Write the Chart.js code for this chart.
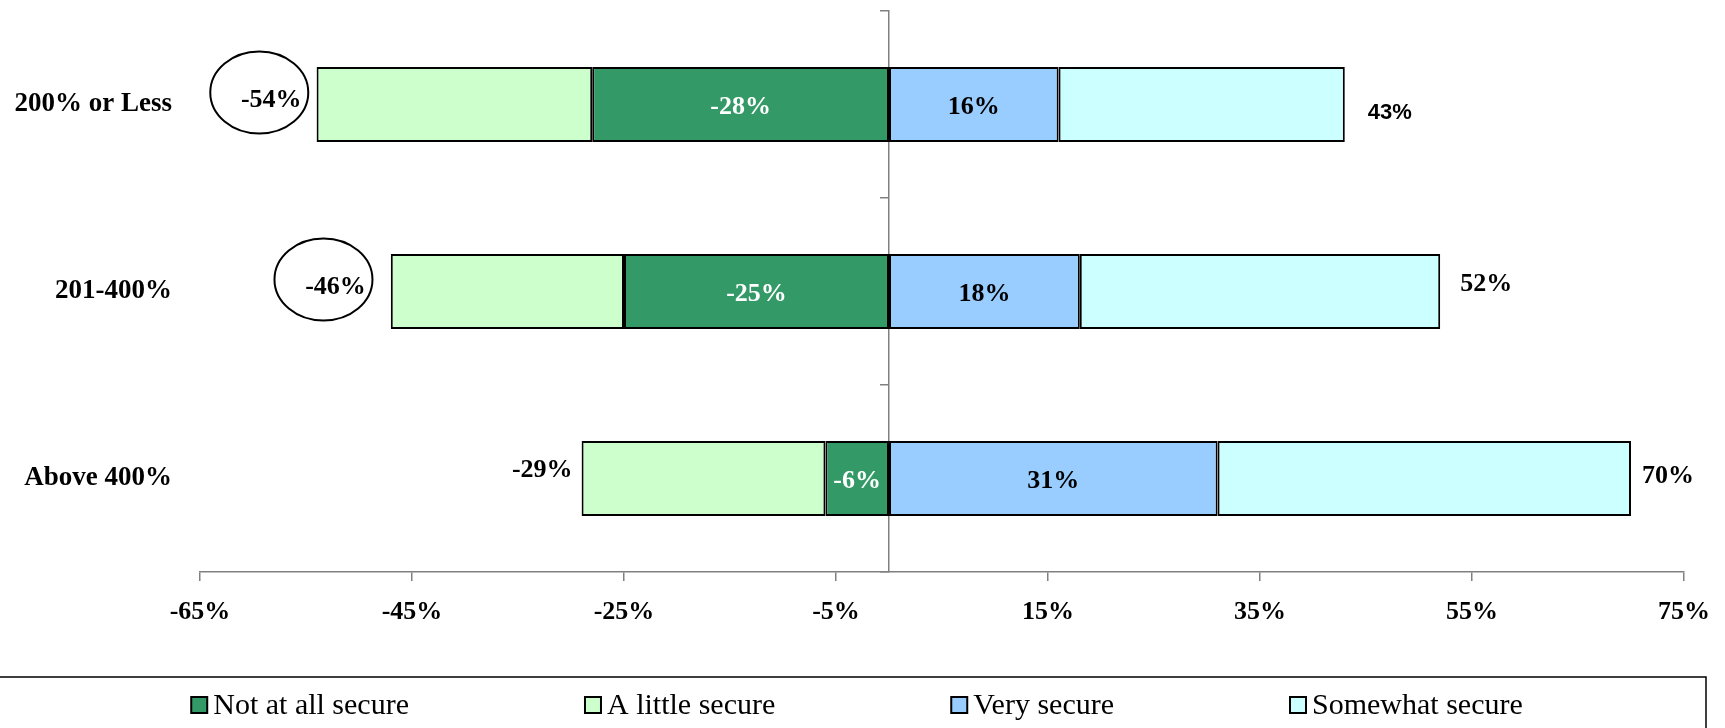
<!DOCTYPE html>
<html>
<head>
<meta charset="utf-8">
<script src="https://cdn.jsdelivr.net/npm/chart.js@4.4.1/dist/chart.umd.min.js"></script>
<style>
  body { margin: 0; background: #fff; }
</style>
</head>
<body>
<canvas id="securityChart" width="1725" height="728"></canvas>
<script>
const categories = ['200% or Less', '201-400%', 'Above 400%'];
const notAtAllSecure = [-28, -25, -6];
const aLittleSecure = [-26, -22, -23];
const verySecure = [16, 18, 31];
const somewhatSecure = [27, 34, 39];
const negativeTotals = ['-54%', '-46%', '-29%'];
const positiveTotals = ['43%', '52%', '70%'];
const xMin = -65, xMax = 75, xStep = 20;

const SERIF = '"Liberation Serif", "Times New Roman", serif';
const SANS = '"Liberation Sans", Arial, sans-serif';

// where the total labels sit next to the bar ends (as in the original)
const negGap = [15, 25, 9];
const negDy = [-4, -4, -8];
const negCircled = [true, true, false];
const posGap = [23, 20, 11];
const posDy = [8, -7, -2];
const posFont = ['bold 22px ' + SANS, 'bold 26px ' + SERIF, 'bold 26px ' + SERIF];

const barLabels = {
  id: 'barLabels',
  afterDatasetsDraw(chart) {
    const ctx = chart.ctx;
    ctx.save();
    ctx.textBaseline = 'middle';

    // values inside the inner segments
    ctx.textAlign = 'center';
    ctx.font = 'bold 26px ' + SERIF;
    [0, 2].forEach(di => {
      chart.getDatasetMeta(di).data.forEach((bar, i) => {
        const v = chart.data.datasets[di].data[i];
        ctx.fillStyle = di === 0 ? '#fff' : '#000';
        ctx.fillText(Math.round(v) + '%', (bar.x + bar.base) / 2, bar.y + 3);
      });
    });

    // negative totals, some circled
    ctx.fillStyle = '#000';
    ctx.textAlign = 'right';
    chart.getDatasetMeta(1).data.forEach((bar, i) => {
      const tx = bar.x - negGap[i];
      const ty = bar.y + negDy[i];
      ctx.font = 'bold 26px ' + SERIF;
      ctx.fillText(negativeTotals[i], tx, ty);
      if (negCircled[i]) {
        const w = ctx.measureText(negativeTotals[i]).width;
        ctx.beginPath();
        ctx.ellipse(tx - w / 2 - 12, ty - 8, 49, 41, 0, 0, Math.PI * 2);
        ctx.lineWidth = 2;
        ctx.strokeStyle = '#000';
        ctx.stroke();
      }
    });

    // positive totals
    ctx.textAlign = 'left';
    chart.getDatasetMeta(3).data.forEach((bar, i) => {
      ctx.font = posFont[i];
      ctx.fillText(positiveTotals[i], bar.x + posGap[i], bar.y + posDy[i]);
    });
    ctx.restore();
  }
};

const boxLegend = {
  id: 'boxLegend',
  afterDraw(chart) {
    const ctx = chart.ctx;
    const top = chart.height - 51;
    const right = chart.chartArea.right + 22;
    ctx.save();
    ctx.lineWidth = 1.5;
    ctx.strokeStyle = '#000';
    ctx.strokeRect(-2, top, right + 2, 80);

    ctx.font = '30px ' + SERIF;
    ctx.textBaseline = 'middle';
    ctx.textAlign = 'left';
    const sets = chart.data.datasets;
    const gap = 176, box = 16, textGap = 6;
    const widths = sets.map(d => box + textGap + ctx.measureText(d.label).width);
    const total = widths.reduce((a, b) => a + b, 0) + gap * (sets.length - 1);
    let x = 857 - total / 2;
    const cy = top + 28;
    sets.forEach((d, i) => {
      ctx.fillStyle = d.backgroundColor;
      ctx.fillRect(x, cy - box / 2, box, box);
      ctx.lineWidth = 2;
      ctx.strokeRect(x, cy - box / 2, box, box);
      ctx.fillStyle = '#000';
      ctx.fillText(d.label, x + box + textGap, cy + 1);
      x += widths[i] + gap;
    });
    ctx.restore();
  }
};

const datasets = [
  { label: 'Not at all secure', data: notAtAllSecure, backgroundColor: '#339966' },
  { label: 'A little secure', data: aLittleSecure, backgroundColor: '#CCFFCC' },
  { label: 'Very secure', data: verySecure, backgroundColor: '#99CCFF' },
  { label: 'Somewhat secure', data: somewhatSecure, backgroundColor: '#CCFFFF' }
].map(d => Object.assign(d, {
  borderColor: '#000',
  borderWidth: 2,
  borderSkipped: false,
  barPercentage: 0.4,
  categoryPercentage: 1
}));

new Chart(document.getElementById('securityChart'), {
  type: 'bar',
  data: { labels: categories, datasets: datasets },
  plugins: [barLabels, boxLegend],
  options: {
    indexAxis: 'y',
    responsive: false,
    animation: false,
    layout: { padding: { left: 0, right: 41, top: 11, bottom: 96 } },
    plugins: {
      legend: { display: false },
      tooltip: { enabled: false }
    },
    scales: {
      x: {
        type: 'linear',
        stacked: true,
        min: xMin,
        max: xMax,
        ticks: {
          stepSize: xStep,
          callback: v => v + '%',
          font: { family: SERIF, size: 26, weight: 'bold' },
          color: '#000',
          padding: 16,
          maxRotation: 0
        },
        grid: { drawOnChartArea: false, drawTicks: true, tickLength: 9, color: '#808080', lineWidth: 1.5 },
        border: { color: '#808080', width: 1.5 },
        afterFit(s) { s.height = 60; s.paddingLeft = 0; s.paddingRight = 0; }
      },
      y: {
        type: 'category',
        stacked: true,
        position: 'left',
        ticks: { font: { family: SERIF, size: 27, weight: 'bold' }, color: '#000', padding: 28 },
        grid: { display: false, drawTicks: false },
        border: { display: false },
        afterFit(s) { s.width = 200; s.paddingTop = 0; s.paddingBottom = 0; }
      },
      zeroAxis: {
        type: 'category',
        axis: 'y',
        position: { x: 0 },
        offset: true,
        ticks: { display: false },
        grid: { offset: true, drawOnChartArea: false, drawTicks: true, tickLength: 8, color: '#808080', lineWidth: 1.5 },
        border: { color: '#808080', width: 1.5 },
        afterFit(s) { s.paddingTop = 0; s.paddingBottom = 0; }
      }
    }
  }
});
</script>
</body>
</html>
